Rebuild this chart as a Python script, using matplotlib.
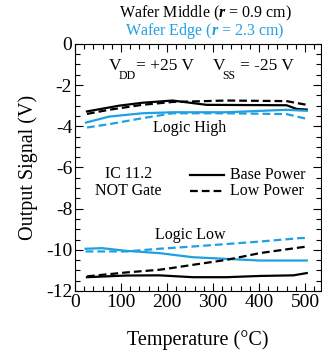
import matplotlib
matplotlib.use("Agg")
import matplotlib.pyplot as plt
from matplotlib.ticker import MultipleLocator

plt.rcParams['font.family'] = ['Liberation Serif', 'DejaVu Serif']
plt.rcParams['mathtext.fontset'] = 'custom'
plt.rcParams['mathtext.rm'] = 'Liberation Serif'
plt.rcParams['mathtext.it'] = 'Liberation Serif:italic'
plt.rcParams['mathtext.bf'] = 'Liberation Serif:bold'
plt.rcParams['mathtext.bfit'] = 'Liberation Serif:bold:italic'

BLUE = '#1ea0e2'

# Logic High
mid_base_high_t = [26, 96, 146, 212, 286, 460, 482, 504]
mid_base_high_v = [-3.28, -3.0, -2.86, -2.75, -2.96, -2.98, -3.16, -3.19]
mid_low_high_t = [26, 74, 146, 212, 330, 460, 504]
mid_low_high_v = [-3.4, -3.2, -2.96, -2.82, -2.75, -2.78, -2.96]
edge_base_high_t = [24, 74, 146, 212, 330, 460, 504]
edge_base_high_v = [-3.82, -3.53, -3.37, -3.32, -3.32, -3.2, -3.25]
edge_low_high_t = [26, 74, 146, 212, 330, 460, 504]
edge_low_high_v = [-4.06, -3.9, -3.61, -3.37, -3.37, -3.41, -3.64]

# Logic Low
edge_base_low_t = [23, 59, 111, 183, 256, 329, 402, 504]
edge_base_low_v = [-9.95, -9.92, -10.05, -10.16, -10.36, -10.44, -10.52, -10.52]
edge_low_low_t = [23, 111, 183, 256, 329, 402, 490, 504]
edge_low_low_v = [-10.08, -10.08, -9.95, -9.84, -9.72, -9.6, -9.43, -9.43]
mid_low_low_t = [26, 111, 183, 206, 256, 329, 402, 504]
mid_low_low_v = [-11.29, -11.1, -10.97, -10.9, -10.73, -10.49, -10.16, -9.84]
mid_base_low_t = [26, 111, 183, 256, 329, 402, 475, 504]
mid_base_low_v = [-11.33, -11.25, -11.24, -11.33, -11.33, -11.27, -11.24, -11.13]

fig = plt.figure(figsize=(3.22, 3.54), dpi=100)
ax = fig.add_axes([0.233, 0.178, 0.764, 0.698])

lw = 1.6
dash = (0, (3.5, 1.8))
ax.plot(mid_base_high_t, mid_base_high_v, color='black', lw=lw)
ax.plot(mid_low_high_t, mid_low_high_v, color='black', lw=lw, linestyle=dash)
ax.plot(edge_base_high_t, edge_base_high_v, color=BLUE, lw=lw)
ax.plot(edge_low_high_t, edge_low_high_v, color=BLUE, lw=lw, linestyle=dash)
ax.plot(edge_base_low_t, edge_base_low_v, color=BLUE, lw=lw)
ax.plot(edge_low_low_t, edge_low_low_v, color=BLUE, lw=lw, linestyle=dash)
ax.plot(mid_low_low_t, mid_low_low_v, color='black', lw=lw, linestyle=dash)
ax.plot(mid_base_low_t, mid_base_low_v, color='black', lw=lw)

ax.set_xlim(0, 535)
ax.set_ylim(-12, 0)
ax.xaxis.set_major_locator(MultipleLocator(100))
ax.xaxis.set_minor_locator(MultipleLocator(20))
ax.yaxis.set_major_locator(MultipleLocator(2))
ax.yaxis.set_minor_locator(MultipleLocator(0.5))
ax.tick_params(which='both', direction='in', top=True, right=True, labelsize=14, width=0.8)
ax.tick_params(which='major', length=6, pad=2)
ax.tick_params(which='minor', length=3.5)
ax.set_yticks([0, -2, -4, -6, -8, -10, -12])
ax.set_yticklabels(['0', '-2', '-4', '-6', '-8', '-10', '-12'])

ax.set_xlabel('Temperature (°C)', fontsize=14.5, labelpad=14)
ax.set_ylabel('Output Signal (V)', fontsize=14.5, labelpad=6)

fig.text(0.637, 0.962, r'Wafer Middle ($\mathbfit{r}$ = 0.9 cm)', ha='center', va='center',
         fontsize=11.5, color='black')
fig.text(0.637, 0.912, r'Wafer Edge ($\mathbfit{r}$ = 2.3 cm)', ha='center', va='center',
         fontsize=11.5, color=BLUE)

# Supply voltage annotation with low subscripts
def supply(x, sub, rest):
    ax.text(x, -1.25, 'V', fontsize=12.5, ha='left', va='baseline')
    ax.text(x + 21, -1.28, sub, fontsize=8.5, ha='left', va='top')
    ax.text(x + 59, -1.25, rest, fontsize=12.5, ha='left', va='baseline')

supply(74, 'DD', '= +25 V')
supply(299, 'SS', '= -25 V')

ax.text(250, -4.1, 'Logic High', fontsize=11.5, ha='center', va='center')
ax.text(250, -9.3, 'Logic Low', fontsize=11.5, ha='center', va='center')
ax.text(116, -6.75, 'IC 11.2\nNOT Gate', fontsize=11.5, ha='center', va='center', linespacing=1.1)

# legend (manual)
ax.plot([250, 325], [-6.35, -6.35], color='black', lw=lw, clip_on=False)
ax.plot([250, 325], [-7.15, -7.15], color='black', lw=lw, linestyle=dash, clip_on=False)
ax.text(338, -6.35, 'Base Power', fontsize=11.5, ha='left', va='center')
ax.text(338, -7.15, 'Low Power', fontsize=11.5, ha='left', va='center')

fig.savefig('out.png', dpi=100)
